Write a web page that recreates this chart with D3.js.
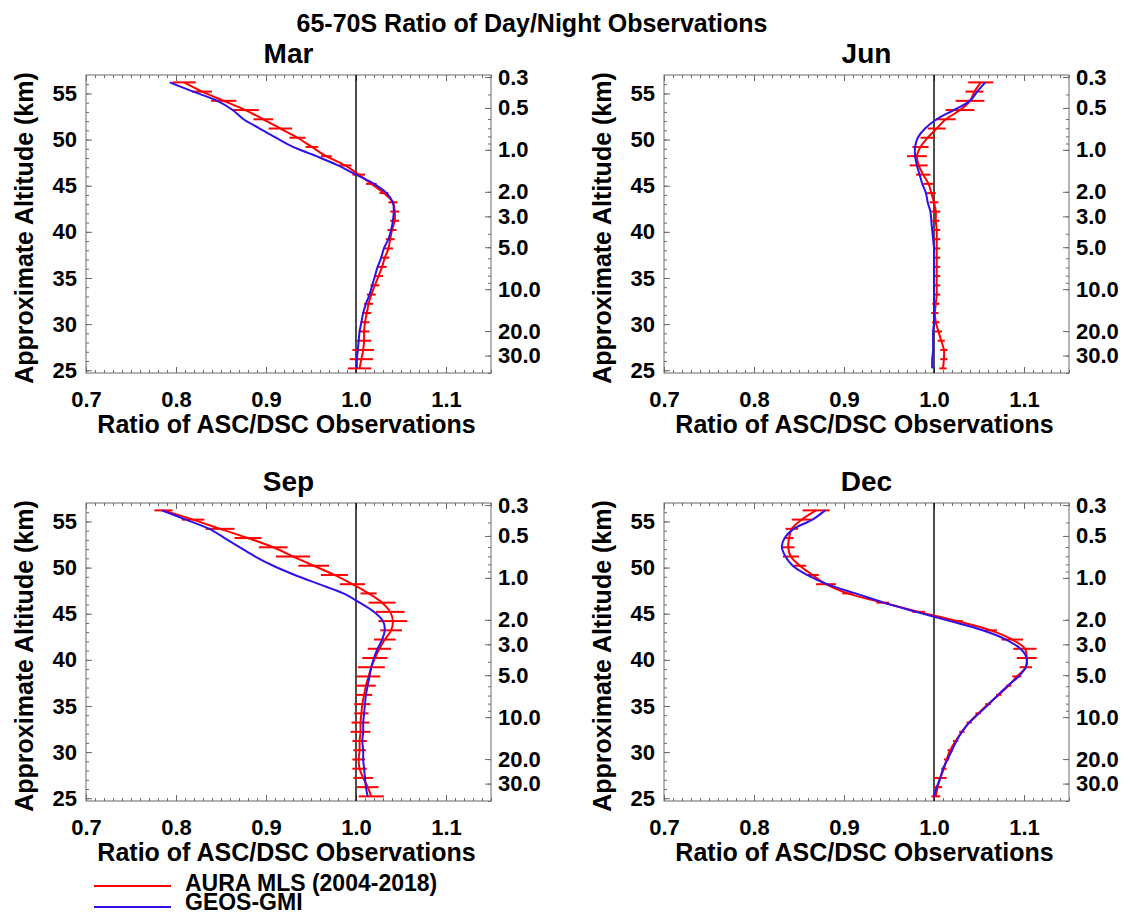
<!DOCTYPE html>
<html>
<head>
<meta charset="utf-8">
<script src="https://cdn.jsdelivr.net/npm/d3@7/dist/d3.min.js"></script>
<style>
  html, body { margin: 0; padding: 0; background: #fff; }
  svg text { font-family: "Liberation Sans", Arial, Helvetica, sans-serif; font-weight: bold; fill: #000; }
</style>
</head>
<body>
<svg id="chart" width="1130" height="914"></svg>
<script>
// Altitude levels (km), bottom to top
const altitudes = [25.2, 26.2, 27.2, 28.2, 29.2, 30.2, 31.2, 32.2, 33.2, 34.2, 35.2,
  36.2, 37.2, 38.2, 39.2, 40.2, 41.2, 42.2, 43.2, 44.2, 45.2, 46.2, 47.2, 48.2,
  49.2, 50.2, 51.2, 52.2, 53.2, 54.2, 55.2, 56.2];

const months = ["Mar", "Jun", "Sep", "Dec"];

// AURA MLS ascending/descending ratio and its uncertainty, per month
const mlsMar = [1.004, 1.006, 1.008, 1.009, 1.009, 1.010, 1.012, 1.014, 1.017, 1.021, 1.025, 1.029, 1.032, 1.036, 1.038, 1.040, 1.043, 1.043, 1.041, 1.031, 1.017, 1.003, 0.988, 0.967, 0.951, 0.935, 0.916, 0.897, 0.877, 0.853, 0.829, 0.809];
const errMar = [0.013, 0.013, 0.012, 0.008, 0.006, 0.005, 0.005, 0.005, 0.005, 0.005, 0.005, 0.005, 0.005, 0.005, 0.005, 0.005, 0.005, 0.005, 0.005, 0.005, 0.006, 0.007, 0.007, 0.006, 0.007, 0.009, 0.013, 0.011, 0.015, 0.014, 0.011, 0.013];
const mlsJun = [1.010, 1.011, 1.011, 1.008, 1.005, 1.002, 1.001, 1.002, 1.003, 1.003, 1.003, 1.003, 1.003, 1.003, 1.003, 1.003, 1.002, 1.002, 1.000, 0.997, 0.994, 0.988, 0.983, 0.981, 0.985, 0.993, 1.003, 1.013, 1.029, 1.040, 1.045, 1.052];
const errJun = [0.004, 0.004, 0.004, 0.004, 0.004, 0.004, 0.004, 0.004, 0.004, 0.004, 0.004, 0.004, 0.004, 0.004, 0.004, 0.004, 0.004, 0.005, 0.005, 0.005, 0.006, 0.008, 0.010, 0.011, 0.009, 0.008, 0.010, 0.011, 0.016, 0.016, 0.010, 0.014];
const mlsSep = [1.017, 1.013, 1.008, 1.004, 1.003, 1.004, 1.004, 1.005, 1.005, 1.006, 1.007, 1.009, 1.011, 1.014, 1.017, 1.021, 1.026, 1.032, 1.039, 1.041, 1.038, 1.029, 1.014, 0.996, 0.976, 0.953, 0.930, 0.908, 0.880, 0.849, 0.819, 0.786];
const errSep = [0.014, 0.012, 0.011, 0.008, 0.007, 0.007, 0.008, 0.011, 0.010, 0.008, 0.009, 0.009, 0.011, 0.013, 0.015, 0.014, 0.013, 0.012, 0.012, 0.016, 0.016, 0.015, 0.009, 0.014, 0.015, 0.017, 0.019, 0.016, 0.015, 0.016, 0.0125, 0.010];
const mlsDec = [1.002, 1.004, 1.007, 1.011, 1.014, 1.018, 1.024, 1.031, 1.039, 1.049, 1.060, 1.072, 1.083, 1.092, 1.102, 1.103, 1.101, 1.087, 1.063, 1.026, 0.983, 0.943, 0.904, 0.880, 0.865, 0.851, 0.841, 0.838, 0.839, 0.842, 0.853, 0.869];
const errDec = [0.005, 0.005, 0.007, 0.003, 0.003, 0.003, 0.003, 0.003, 0.003, 0.003, 0.003, 0.003, 0.003, 0.005, 0.007, 0.011, 0.013, 0.012, 0.007, 0.006, 0.007, 0.007, 0.006, 0.011, 0.007, 0.007, 0.009, 0.007, 0.005, 0.007, 0.011, 0.015];

// GEOS-GMI ratio, per month
const gmiMar = [1.001, 1.001, 1.002, 1.003, 1.004, 1.006, 1.008, 1.011, 1.015, 1.018, 1.021, 1.024, 1.028, 1.031, 1.036, 1.039, 1.041, 1.042, 1.041, 1.034, 1.020, 1.000, 0.980, 0.956, 0.930, 0.911, 0.893, 0.875, 0.863, 0.846, 0.819, 0.793];
const gmiJun = [0.998, 0.998, 0.999, 0.999, 0.999, 1.000, 1.000, 1.000, 1.000, 1.000, 1.000, 1.000, 1.000, 1.000, 0.999, 0.998, 0.997, 0.996, 0.993, 0.991, 0.987, 0.984, 0.981, 0.979, 0.979, 0.982, 0.990, 1.003, 1.022, 1.040, 1.048, 1.057];
const gmiSep = [1.013, 1.011, 1.010, 1.009, 1.008, 1.008, 1.007, 1.008, 1.008, 1.009, 1.010, 1.011, 1.013, 1.015, 1.017, 1.020, 1.024, 1.029, 1.032, 1.030, 1.020, 1.004, 0.986, 0.959, 0.932, 0.908, 0.888, 0.871, 0.854, 0.837, 0.811, 0.784];
const gmiDec = [1.000, 1.003, 1.007, 1.010, 1.015, 1.020, 1.025, 1.031, 1.039, 1.050, 1.061, 1.071, 1.082, 1.094, 1.102, 1.103, 1.096, 1.080, 1.054, 1.018, 0.980, 0.944, 0.913, 0.881, 0.859, 0.843, 0.835, 0.831, 0.834, 0.844, 0.865, 0.879];

// Axis ticks and labels
const ratioTicks = [0.7, 0.8, 0.9, 1.0, 1.1];
const altitudeTicks = [25, 30, 35, 40, 45, 50, 55];
const pressureLabels = [0.3, 0.5, 1.0, 2.0, 3.0, 5.0, 10.0, 20.0, 30.0];
const pressureMinor = [0.3, 0.4, 0.5, 0.6, 0.7, 0.8, 0.9, 1, 2, 3, 4, 5, 6, 7, 8, 9, 10, 20, 30, 40];

const mls = [mlsMar, mlsJun, mlsSep, mlsDec];
const mlsErr = [errMar, errJun, errSep, errDec];
const gmi = [gmiMar, gmiJun, gmiSep, gmiDec];

const titleText = "65-70S Ratio of Day/Night Observations";
const xLabel = "Ratio of ASC/DSC Observations";
const yLabel = "Approximate Altitude (km)";
const legendNames = ["AURA MLS (2004-2018)", "GEOS-GMI"];
const RED = "#ff0000", BLUE = "#3010e8", FRAME = "#6a6a6a";

const svg = d3.select("#chart");
const pw = 405, ph = 298;
const colLeft = [86, 664], rowTop = [75, 503];

const x = d3.scaleLinear().domain([0.7, 1.15]).range([0, pw]);
const y = d3.scaleLinear().domain([24.7, 57]).range([ph, 0]);
const p = d3.scaleLog().domain([0.29, 40]).range([0, ph]);

const minorRatio = d3.range(70, 116).map(d => d / 100);
const minorAlt = d3.range(25, 57);

svg.append("text").attr("x", 532).attr("y", 32).attr("text-anchor", "middle")
  .style("font-size", "25px").text(titleText);

months.forEach((m, i) => {
  const g = svg.append("g")
    .attr("transform", `translate(${colLeft[i % 2]},${rowTop[Math.floor(i / 2)]})`);

  // panel title
  g.append("text").attr("x", pw / 2).attr("y", -12).attr("text-anchor", "middle")
    .style("font-size", "28px").text(m);

  // minor ticks (no labels)
  const minor = (axis, tr) => {
    const a = g.append("g").attr("transform", tr).call(axis);
    a.select(".domain").remove();
    a.selectAll("text").remove();
    a.selectAll("line").attr("stroke", FRAME);
  };
  minor(d3.axisBottom(x).tickValues(minorRatio).tickSize(-3), `translate(0,${ph})`);
  minor(d3.axisTop(x).tickValues(minorRatio).tickSize(-3), "translate(0,0)");
  minor(d3.axisTop(x).tickValues(ratioTicks).tickSize(-6), "translate(0,0)");
  minor(d3.axisLeft(y).tickValues(minorAlt).tickSize(-3), "translate(0,0)");
  minor(d3.axisRight(p).tickValues(pressureMinor).tickSize(-3), `translate(${pw},0)`);

  // labelled axes
  const styleAxis = a => {
    a.select(".domain").remove();
    a.selectAll("line").attr("stroke", FRAME);
    a.selectAll("text").style("font-size", "22px").style("font-family", null);
  };
  g.append("g").attr("transform", `translate(0,${ph})`)
    .call(d3.axisBottom(x).tickValues(ratioTicks).tickFormat(d3.format(".1f"))
      .tickSizeInner(-6).tickSizeOuter(0).tickPadding(18))
    .call(styleAxis);
  g.append("g")
    .call(d3.axisLeft(y).tickValues(altitudeTicks).tickFormat(d3.format("d"))
      .tickSizeInner(-6).tickSizeOuter(0).tickPadding(9))
    .call(styleAxis);
  g.append("g").attr("transform", `translate(${pw},0)`)
    .call(d3.axisRight(p).tickValues(pressureLabels).tickFormat(d3.format(".1f"))
      .tickSizeInner(-6).tickSizeOuter(0).tickPadding(7))
    .call(styleAxis);

  // frame
  g.append("rect").attr("width", pw).attr("height", ph)
    .attr("fill", "none").attr("stroke", FRAME).attr("stroke-width", 1);

  // axis titles
  g.append("text").attr("x", pw / 2 - 2).attr("y", ph + 60).attr("text-anchor", "middle")
    .style("font-size", "25px").text(xLabel);
  g.append("text").attr("transform", `translate(-53,${ph / 2 + 4}) rotate(-90)`)
    .attr("text-anchor", "middle").style("font-size", "25px").text(yLabel);

  // reference line at ratio 1
  g.append("line").attr("x1", x(1)).attr("x2", x(1)).attr("y1", 0).attr("y2", ph)
    .attr("stroke", "#000").attr("stroke-width", 1.4);

  const rows = altitudes.map((a, k) => ({ alt: a, v: mls[i][k], e: mlsErr[i][k], gv: gmi[i][k] }));

  // MLS uncertainty bars
  g.append("g").selectAll("line").data(rows).join("line")
    .attr("x1", d => x(d.v - d.e)).attr("x2", d => x(d.v + d.e))
    .attr("y1", d => y(d.alt)).attr("y2", d => y(d.alt))
    .attr("stroke", RED).attr("stroke-width", 2);

  const line = d3.line().curve(d3.curveCatmullRom.alpha(0.5)).y(d => y(d.alt));
  g.append("path").datum(rows).attr("fill", "none").attr("stroke", RED).attr("stroke-width", 2)
    .attr("d", line.x(d => x(d.v)));
  g.append("path").datum(rows).attr("fill", "none").attr("stroke", BLUE).attr("stroke-width", 2)
    .attr("d", line.x(d => x(d.gv)));
});

// legend
const legend = svg.append("g");
[RED, BLUE].forEach((c, j) => {
  legend.append("line").attr("x1", 94).attr("x2", 171)
    .attr("y1", 886 + j * 21).attr("y2", 886 + j * 21)
    .attr("stroke", c).attr("stroke-width", 2);
  legend.append("text").attr("x", 185).attr("y", 891 + j * 19)
    .style("font-size", "23px").text(legendNames[j]);
});
</script>
</body>
</html>
